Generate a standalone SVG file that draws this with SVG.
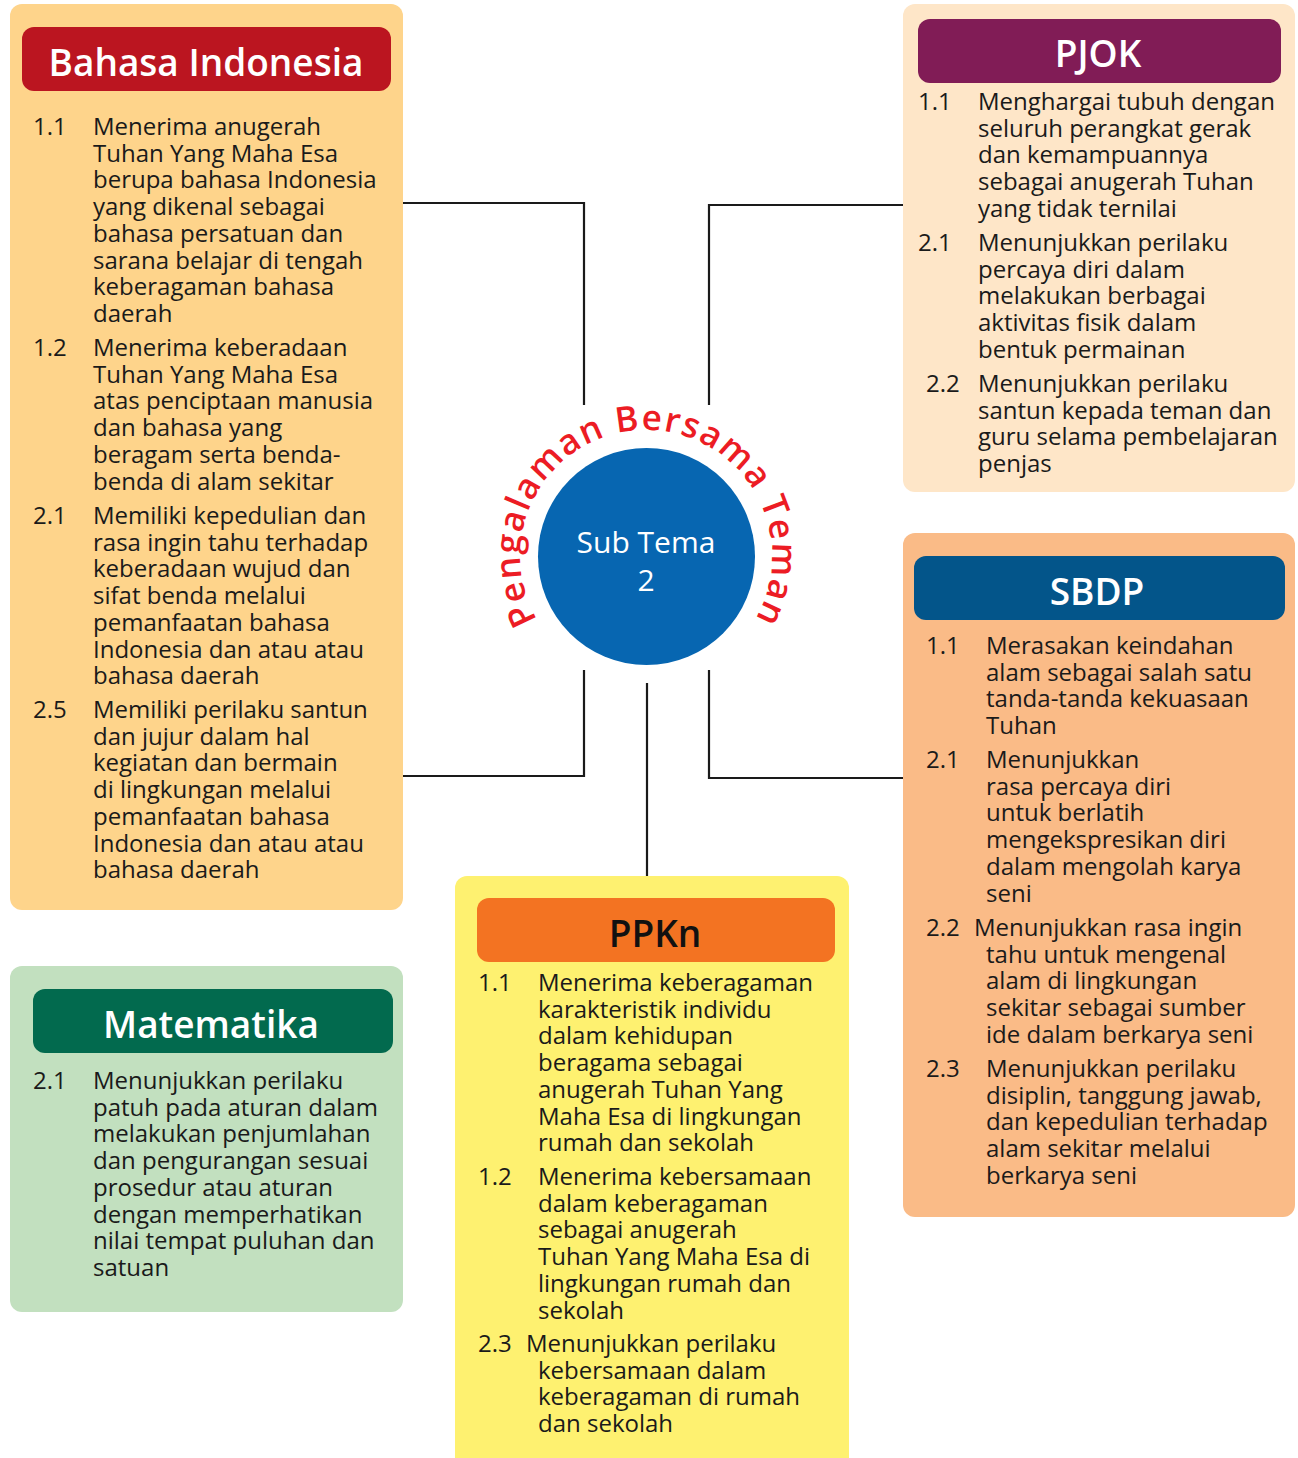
<svg xmlns="http://www.w3.org/2000/svg" width="1298" height="1458" viewBox="0 0 1298 1458">
<defs>
<style>
.t{font-family:'Open Sans','Noto Sans',sans-serif;font-size:24px;font-weight:500;fill:#1a1a1a;}
.h{font-family:'Open Sans','Noto Sans',sans-serif;font-size:37px;font-weight:600;fill:#ffffff;text-anchor:middle;}
.c{fill:none;stroke:#1a1a1a;stroke-width:2.2;}
.arc{font-family:'Open Sans','Noto Sans',sans-serif;font-size:35px;font-weight:600;fill:#ec1c24;letter-spacing:1.5px;}
</style>
<path id="arcPath" d="M 536.9 619 A 126 126 0 1 1 755.1 619"/>
</defs>
<rect width="1298" height="1458" fill="#ffffff"/>

<g id="connectors">
<polyline class="c" points="403,203 584,203 584,405"/>
<polyline class="c" points="403,776 584,776 584,670"/>
<polyline class="c" points="903,205 709,205 709,405"/>
<polyline class="c" points="903,778 709,778 709,670"/>
<line class="c" x1="647" y1="683" x2="647" y2="876"/>
</g>

<g id="center">
<circle cx="646.5" cy="556.5" r="108.5" fill="#0766b1"/>
<text class="t" x="646" y="553" text-anchor="middle" style="font-size:30px;fill:#fff;font-weight:500">Sub Tema</text>
<text class="t" x="646" y="591" text-anchor="middle" style="font-size:30px;fill:#fff;font-weight:500">2</text>
<text class="arc"><textPath href="#arcPath" startOffset="50%" text-anchor="middle">Pengalaman Bersama Teman</textPath></text>
</g>

<g id="bahasa">
<rect x="10" y="4" width="393" height="906" rx="12" fill="#fed48b"/>
<rect x="22" y="27" width="369" height="64" rx="12" fill="#bb1520"/>
<text class="h" x="206" y="76">Bahasa Indonesia</text>
<text class="t" x="33" y="135">1.1</text>
<text class="t" y="135"><tspan x="93">Menerima anugerah</tspan><tspan x="93" dy="26.7">Tuhan Yang Maha Esa</tspan><tspan x="93" dy="26.7">berupa bahasa Indonesia</tspan><tspan x="93" dy="26.7">yang dikenal sebagai</tspan><tspan x="93" dy="26.7">bahasa persatuan dan</tspan><tspan x="93" dy="26.7">sarana belajar di tengah</tspan><tspan x="93" dy="26.7">keberagaman bahasa</tspan><tspan x="93" dy="26.7">daerah</tspan></text>
<text class="t" x="33" y="356">1.2</text>
<text class="t" y="356"><tspan x="93">Menerima keberadaan</tspan><tspan x="93" dy="26.7">Tuhan Yang Maha Esa</tspan><tspan x="93" dy="26.7">atas penciptaan manusia</tspan><tspan x="93" dy="26.7">dan bahasa yang</tspan><tspan x="93" dy="26.7">beragam serta benda-</tspan><tspan x="93" dy="26.7">benda di alam sekitar</tspan></text>
<text class="t" x="33" y="524">2.1</text>
<text class="t" y="524"><tspan x="93">Memiliki kepedulian dan</tspan><tspan x="93" dy="26.7">rasa ingin tahu terhadap</tspan><tspan x="93" dy="26.7">keberadaan wujud dan</tspan><tspan x="93" dy="26.7">sifat benda melalui</tspan><tspan x="93" dy="26.7">pemanfaatan bahasa</tspan><tspan x="93" dy="26.7">Indonesia dan atau atau</tspan><tspan x="93" dy="26.7">bahasa daerah</tspan></text>
<text class="t" x="33" y="718">2.5</text>
<text class="t" y="718"><tspan x="93">Memiliki perilaku santun</tspan><tspan x="93" dy="26.7">dan jujur dalam hal</tspan><tspan x="93" dy="26.7">kegiatan dan bermain</tspan><tspan x="93" dy="26.7">di lingkungan melalui</tspan><tspan x="93" dy="26.7">pemanfaatan bahasa</tspan><tspan x="93" dy="26.7">Indonesia dan atau atau</tspan><tspan x="93" dy="26.7">bahasa daerah</tspan></text>
</g>

<g id="pjok">
<rect x="903" y="4" width="392" height="488" rx="12" fill="#fee6c8"/>
<rect x="918" y="19" width="363" height="64" rx="12" fill="#811c56"/>
<text class="h" x="1098" y="67">PJOK</text>
<text class="t" x="918" y="110">1.1</text>
<text class="t" y="110"><tspan x="978">Menghargai tubuh dengan</tspan><tspan x="978" dy="26.7">seluruh perangkat gerak</tspan><tspan x="978" dy="26.7">dan kemampuannya</tspan><tspan x="978" dy="26.7">sebagai anugerah Tuhan</tspan><tspan x="978" dy="26.7">yang tidak ternilai</tspan></text>
<text class="t" x="918" y="251">2.1</text>
<text class="t" y="251"><tspan x="978">Menunjukkan perilaku</tspan><tspan x="978" dy="26.7">percaya diri dalam</tspan><tspan x="978" dy="26.7">melakukan berbagai</tspan><tspan x="978" dy="26.7">aktivitas fisik dalam</tspan><tspan x="978" dy="26.7">bentuk permainan</tspan></text>
<text class="t" x="926" y="392">2.2</text>
<text class="t" y="392"><tspan x="978">Menunjukkan perilaku</tspan><tspan x="978" dy="26.7">santun kepada teman dan</tspan><tspan x="978" dy="26.7">guru selama pembelajaran</tspan><tspan x="978" dy="26.7">penjas</tspan></text>
</g>

<g id="sbdp">
<rect x="903" y="533" width="392" height="684" rx="12" fill="#fabb87"/>
<rect x="914" y="556" width="371" height="64" rx="12" fill="#03558a"/>
<text class="h" x="1097" y="605">SBDP</text>
<text class="t" x="926" y="654">1.1</text>
<text class="t" y="654"><tspan x="986">Merasakan keindahan</tspan><tspan x="986" dy="26.7">alam sebagai salah satu</tspan><tspan x="986" dy="26.7">tanda-tanda kekuasaan</tspan><tspan x="986" dy="26.7">Tuhan</tspan></text>
<text class="t" x="926" y="768">2.1</text>
<text class="t" y="768"><tspan x="986">Menunjukkan</tspan><tspan x="986" dy="26.7">rasa percaya diri</tspan><tspan x="986" dy="26.7">untuk berlatih</tspan><tspan x="986" dy="26.7">mengekspresikan diri</tspan><tspan x="986" dy="26.7">dalam mengolah karya</tspan><tspan x="986" dy="26.7">seni</tspan></text>
<text class="t" x="926" y="936">2.2</text>
<text class="t" y="936"><tspan x="974">Menunjukkan rasa ingin</tspan><tspan x="986" dy="26.7">tahu untuk mengenal</tspan><tspan x="986" dy="26.7">alam di lingkungan</tspan><tspan x="986" dy="26.7">sekitar sebagai sumber</tspan><tspan x="986" dy="26.7">ide dalam berkarya seni</tspan></text>
<text class="t" x="926" y="1077">2.3</text>
<text class="t" y="1077"><tspan x="986">Menunjukkan perilaku</tspan><tspan x="986" dy="26.7">disiplin, tanggung jawab,</tspan><tspan x="986" dy="26.7">dan kepedulian terhadap</tspan><tspan x="986" dy="26.7">alam sekitar melalui</tspan><tspan x="986" dy="26.7">berkarya seni</tspan></text>
</g>

<g id="ppkn">
<rect x="455" y="876" width="394" height="600" rx="12" fill="#fef170"/>
<rect x="477" y="898" width="358" height="64" rx="12" fill="#f37322"/>
<text class="h" x="655" y="947" style="fill:#111">PPKn</text>
<text class="t" x="478" y="991">1.1</text>
<text class="t" y="991"><tspan x="538">Menerima keberagaman</tspan><tspan x="538" dy="26.7">karakteristik individu</tspan><tspan x="538" dy="26.7">dalam kehidupan</tspan><tspan x="538" dy="26.7">beragama sebagai</tspan><tspan x="538" dy="26.7">anugerah Tuhan Yang</tspan><tspan x="538" dy="26.7">Maha Esa di lingkungan</tspan><tspan x="538" dy="26.7">rumah dan sekolah</tspan></text>
<text class="t" x="478" y="1185">1.2</text>
<text class="t" y="1185"><tspan x="538">Menerima kebersamaan</tspan><tspan x="538" dy="26.7">dalam keberagaman</tspan><tspan x="538" dy="26.7">sebagai anugerah</tspan><tspan x="538" dy="26.7">Tuhan Yang Maha Esa di</tspan><tspan x="538" dy="26.7">lingkungan rumah dan</tspan><tspan x="538" dy="26.7">sekolah</tspan></text>
<text class="t" x="478" y="1352">2.3</text>
<text class="t" y="1352"><tspan x="526">Menunjukkan perilaku</tspan><tspan x="538" dy="26.7">kebersamaan dalam</tspan><tspan x="538" dy="26.7">keberagaman di rumah</tspan><tspan x="538" dy="26.7">dan sekolah</tspan></text>
</g>

<g id="matematika">
<rect x="10" y="966" width="393" height="346" rx="12" fill="#c2e0bf"/>
<rect x="33" y="989" width="360" height="64" rx="12" fill="#026a4e"/>
<text class="h" x="211" y="1038">Matematika</text>
<text class="t" x="33" y="1089">2.1</text>
<text class="t" y="1089"><tspan x="93">Menunjukkan perilaku</tspan><tspan x="93" dy="26.7">patuh pada aturan dalam</tspan><tspan x="93" dy="26.7">melakukan penjumlahan</tspan><tspan x="93" dy="26.7">dan pengurangan sesuai</tspan><tspan x="93" dy="26.7">prosedur atau aturan</tspan><tspan x="93" dy="26.7">dengan memperhatikan</tspan><tspan x="93" dy="26.7">nilai tempat puluhan dan</tspan><tspan x="93" dy="26.7">satuan</tspan></text>
</g>
</svg>
